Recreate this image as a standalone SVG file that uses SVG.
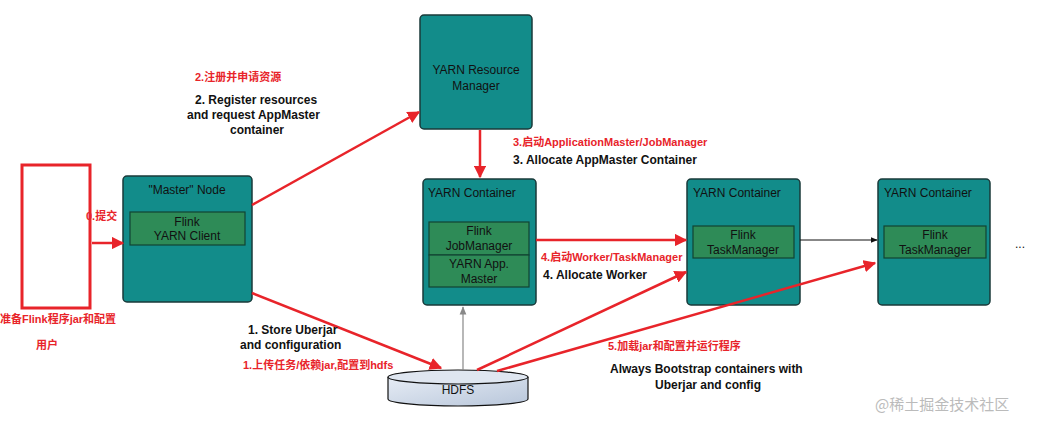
<svg xmlns="http://www.w3.org/2000/svg" width="1050" height="429" viewBox="0 0 1050 429">
<defs>
<style>
.node{fill:#128c8a;stroke:#1a3a3a;stroke-width:1.5}
.inner{fill:#2e8b57;stroke:#143;stroke-width:1.2}
.t{font-family:"Liberation Sans",Arial,sans-serif;font-size:12px;fill:#111}
.b{font-family:"Liberation Sans",Arial,sans-serif;font-size:12px;font-weight:bold;fill:#111}
.r{font-family:"Liberation Sans","Noto Sans CJK SC",sans-serif;font-size:11px;font-weight:bold;fill:#e8242a}
.red{stroke:#e8242a;stroke-width:2.5;fill:none;marker-end:url(#ar)}
</style>
<marker id="ar" viewBox="0 0 10 10" refX="9" refY="5" markerWidth="5" markerHeight="5" orient="auto"><path d="M0,0L10,5L0,10z" fill="#e8242a"/></marker>
<marker id="ab" viewBox="0 0 10 10" refX="9" refY="5" markerWidth="7" markerHeight="7" orient="auto"><path d="M0,1L10,5L0,9z" fill="#111"/></marker>
<marker id="ag" viewBox="0 0 10 10" refX="9" refY="5" markerWidth="7" markerHeight="7" orient="auto"><path d="M0,1L10,5L0,9z" fill="#888"/></marker>
<linearGradient id="hd" x1="0" y1="0" x2="1" y2="1"><stop offset="0" stop-color="#e6ecf5"/><stop offset="1" stop-color="#b8c6da"/></linearGradient>
</defs>
<rect width="1050" height="429" fill="#fff"/>
<g id="user"><rect x="22" y="165" width="68" height="143" fill="#fff" stroke="#e8242a" stroke-width="3"/></g>
<g id="master"><rect class="node" x="123" y="176" width="129" height="126" rx="4"/>
<text class="t" x="187" y="194" text-anchor="middle">"Master" Node</text>
<rect class="inner" x="130" y="212" width="115" height="33"/>
<text class="t" x="187" y="226" text-anchor="middle">Flink</text><text class="t" x="187" y="240" text-anchor="middle">YARN Client</text></g>
<g id="rm"><rect class="node" x="420" y="15" width="112" height="114" rx="4"/>
<text class="t" x="476" y="74" text-anchor="middle">YARN Resource</text><text class="t" x="476" y="90" text-anchor="middle">Manager</text></g>
<g id="c1"><rect class="node" x="423" y="179" width="113" height="126" rx="4"/>
<text class="t" x="428" y="197">YARN Container</text>
<rect class="inner" x="429" y="222" width="100" height="33"/>
<text class="t" x="479" y="235" text-anchor="middle">Flink</text><text class="t" x="479" y="250" text-anchor="middle">JobManager</text>
<rect class="inner" x="429" y="255" width="100" height="32"/>
<text class="t" x="479" y="268" text-anchor="middle">YARN App.</text><text class="t" x="479" y="283" text-anchor="middle">Master</text></g>
<g id="c2"><rect class="node" x="687" y="179" width="113" height="126" rx="4"/>
<text class="t" x="693" y="197">YARN Container</text>
<rect class="inner" x="693" y="226" width="101" height="32"/>
<text class="t" x="743" y="239" text-anchor="middle">Flink</text><text class="t" x="743" y="254" text-anchor="middle">TaskManager</text></g>
<g id="c3"><rect class="node" x="878" y="179" width="112" height="126" rx="4"/>
<text class="t" x="884" y="197">YARN Container</text>
<rect class="inner" x="884" y="226" width="102" height="32"/>
<text class="t" x="935" y="239" text-anchor="middle">Flink</text><text class="t" x="935" y="254" text-anchor="middle">TaskManager</text></g>
<g id="hdfs"><path d="M388,377 v22 a70,7 0 0 0 140,0 v-22" fill="url(#hd)" stroke="#111" stroke-width="1.2"/>
<ellipse cx="458" cy="377" rx="70" ry="7" fill="#dfe6f0" stroke="#111" stroke-width="1.2"/>
<text class="t" x="458" y="394" text-anchor="middle">HDFS</text></g>
<g id="connectors">
<line class="red" x1="92" y1="243" x2="123" y2="243"/>
<line class="red" x1="252" y1="205" x2="419" y2="112"/>
<line class="red" x1="480" y1="130" x2="480" y2="177"/>
<line class="red" x1="536" y1="240" x2="686" y2="240"/>
<line x1="800" y1="240" x2="877" y2="240" stroke="#111" stroke-width="1" marker-end="url(#ab)"/>
<line class="red" x1="252" y1="293" x2="441" y2="368"/>
<line x1="463" y1="370" x2="463" y2="307" stroke="#888" stroke-width="1.2" marker-end="url(#ag)"/>
<line class="red" x1="477" y1="370" x2="686" y2="272"/>
<line class="red" x1="497" y1="371" x2="875" y2="263"/>
</g>
<g id="labels">
<text class="r" x="86" y="220">0.提交</text>
<text class="r" x="0" y="323">准备Flink程序jar和配置</text>
<text class="r" x="36" y="349">用户</text>
<text class="r" x="195" y="81">2.注册并申请资源</text>
<text class="b" x="195" y="104">2. Register resources</text>
<text class="b" x="187" y="119">and request AppMaster</text>
<text class="b" x="230" y="134">container</text>
<text class="r" x="513" y="146">3.启动ApplicationMaster/JobManager</text>
<text class="b" x="513" y="164">3. Allocate AppMaster Container</text>
<text class="r" x="541" y="261">4.启动Worker/TaskManager</text>
<text class="b" x="543" y="279">4. Allocate Worker</text>
<text class="b" x="248" y="334">1. Store Uberjar</text>
<text class="b" x="240" y="349">and configuration</text>
<text class="r" x="243" y="369">1.上传任务/依赖jar,配置到hdfs</text>
<text class="r" x="608" y="350">5.加载jar和配置并运行程序</text>
<text class="b" x="610" y="373">Always Bootstrap containers with</text>
<text class="b" x="655" y="389">Uberjar and config</text>
<text class="t" x="1015" y="248">...</text>
<text x="875" y="410" font-family="'Noto Sans CJK SC',sans-serif" font-size="15" fill="#bbb">@稀土掘金技术社区</text>
</g>
</svg>
